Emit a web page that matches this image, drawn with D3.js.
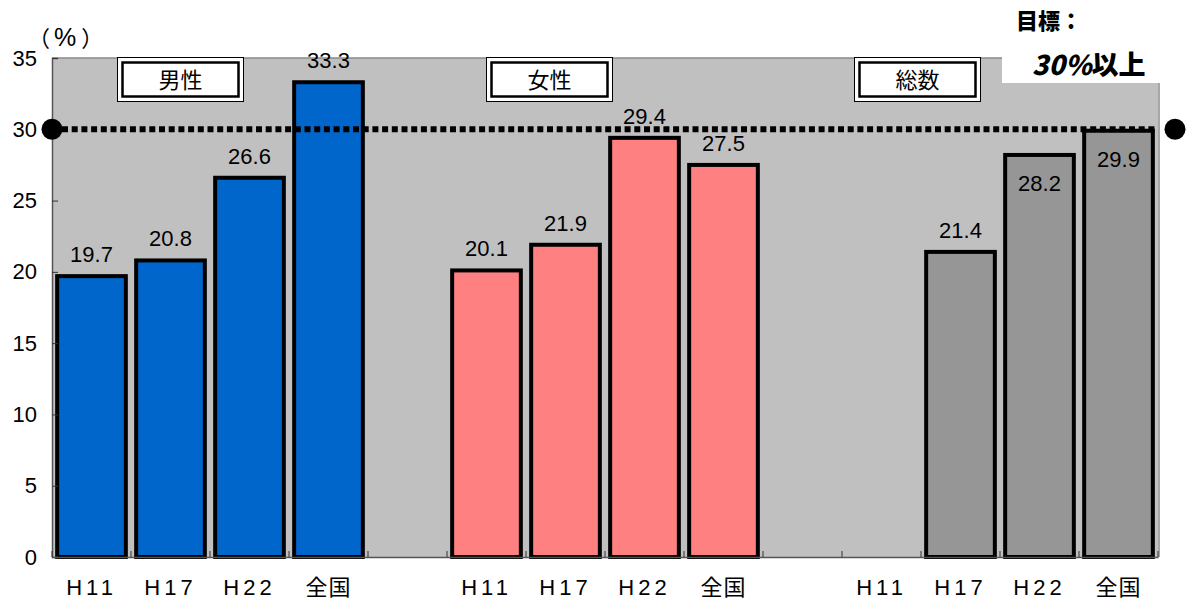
<!DOCTYPE html>
<html>
<head>
<meta charset="utf-8">
<script src="https://cdn.jsdelivr.net/npm/d3@7"></script>
<style>
  html, body { margin: 0; padding: 0; background: #fff; }
  svg { display: block; }
  text { font-family: "Liberation Sans", Arial, "Noto Sans CJK JP", sans-serif; fill: #000; }
  text.jp { font-family: "Noto Sans CJK JP", sans-serif; }
</style>
</head>
<body>
<svg id="chart" width="1187" height="605"></svg>
<script>
// ---- data ----
const groups = ["男性", "女性", "総数"];
const periods = ["H11", "H17", "H22", "全国"];
const maleValues = [19.7, 20.8, 26.6, 33.3];
const femaleValues = [20.1, 21.9, 29.4, 27.5];
const totalValues = [null, 21.4, 28.2, 29.9];
const yTicks = [0, 5, 10, 15, 20, 25, 30, 35];
const targetValue = 30;
const targetTitle = "目標：";
const targetText = ["30%", "以上"];
const unitLabel = ["（", "%", "）"];

// ---- layout ----
const W = 1187, H = 605;
const plot = { left: 52, right: 1158, top: 58, bottom: 557 };
const groupColors = ["#0066CC", "#FF8080", "#969696"];
const groupBoxLeft = [117, 486, 854];
// total-group labels that sit inside the bar top (they would clash with the target line)
const insideLabels = new Set(["総数-H22", "総数-全国"]);

const seriesValues = [maleValues, femaleValues, totalValues];

// slot keys: each group's four periods with an empty slot between groups
const slots = [];
groups.forEach((g, gi) => {
  periods.forEach(p => slots.push({ key: g + "-" + p, group: gi, period: p }));
  if (gi < groups.length - 1) slots.push({ key: "gap" + gi, group: -1, period: "" });
});
const bars = [];
groups.forEach((g, gi) => {
  periods.forEach((p, pi) => {
    const v = seriesValues[gi][pi];
    if (v != null) bars.push({ key: g + "-" + p, group: gi, value: v });
  });
});

const svg = d3.select("#chart");

const x = d3.scaleBand()
  .domain(slots.map(d => d.key))
  .range([plot.left, plot.right])
  .paddingInner(0.08)
  .paddingOuter(0.04);

const y = d3.scaleLinear().domain([0, 35]).range([plot.bottom, plot.top]);

// plot background
svg.append("rect")
  .attr("x", plot.left).attr("y", plot.top)
  .attr("width", plot.right - plot.left).attr("height", plot.bottom - plot.top)
  .attr("fill", "#C0C0C0");

// white panel carrying the target note
svg.append("rect")
  .attr("x", 1002).attr("y", 0)
  .attr("width", W - 1002).attr("height", 83)
  .attr("fill", "#fff");

// plot frame (top and right)
svg.append("path")
  .attr("d", `M${plot.left},${plot.top}H1002`)
  .attr("stroke", "#8a8a8a").attr("stroke-width", 1.5).attr("fill", "none");
svg.append("path")
  .attr("d", `M${plot.right + 1},83V${plot.bottom}`)
  .attr("stroke", "#8a8a8a").attr("stroke-width", 1.5).attr("fill", "none");

// bars
const sw = 4;
svg.append("g").selectAll("rect")
  .data(bars)
  .join("rect")
  .attr("x", d => x(d.key) + sw / 2)
  .attr("y", d => y(d.value))
  .attr("width", x.bandwidth() - sw)
  .attr("height", d => y(0) - y(d.value))
  .attr("fill", d => groupColors[d.group])
  .attr("stroke", "#000")
  .attr("stroke-width", sw);

// value labels
svg.append("g").selectAll("text")
  .data(bars)
  .join("text")
  .attr("x", d => x(d.key) + x.bandwidth() / 2)
  .attr("y", d => insideLabels.has(d.key) ? y(d.value) + 36 : y(d.value) - 14)
  .attr("text-anchor", "middle")
  .attr("font-size", 22)
  .text(d => d.value.toFixed(1));

// y axis
const yAxis = d3.axisLeft(y).tickValues(yTicks).tickSize(-6).tickPadding(15).tickFormat(d3.format("d"));
const yg = svg.append("g").attr("transform", `translate(${plot.left},0)`).call(yAxis);
yg.select(".domain").attr("stroke", "#555").attr("stroke-width", 1.5);
yg.selectAll(".tick line").attr("stroke", "#333");
yg.selectAll(".tick text").attr("font-size", 22).attr("font-family", "Liberation Sans, Arial, sans-serif").attr("fill", "#000");

// x axis
const labelOf = new Map(slots.map(d => [d.key, d.period]));
const xAxis = d3.axisBottom(x).tickSize(0).tickPadding(22).tickFormat(k => labelOf.get(k));
const xg = svg.append("g").attr("transform", `translate(0,${plot.bottom})`).call(xAxis);
xg.select(".domain").attr("stroke", "#555").attr("stroke-width", 1.5);
xg.selectAll(".tick text")
  .attr("font-size", 22)
  .attr("letter-spacing", d => labelOf.get(d) === "全国" ? 1 : 4)
  .attr("font-family", d => labelOf.get(d) === "全国" ? "Noto Sans CJK JP, sans-serif" : "Liberation Sans, Arial, sans-serif")
  .attr("fill", "#000");

// small inward ticks at slot boundaries
const boundaries = d3.range(slots.length + 1).map(i => plot.left + i * (plot.right - plot.left) / slots.length);
svg.append("g").selectAll("line")
  .data(boundaries)
  .join("line")
  .attr("x1", d => d).attr("x2", d => d)
  .attr("y1", plot.bottom).attr("y2", plot.bottom - 6)
  .attr("stroke", "#333").attr("stroke-width", 1);

// unit label: full-width brackets around a larger percent sign
const unit = svg.append("text")
  .attr("class", "jp")
  .attr("x", 28).attr("y", 46)
  .attr("font-size", 22);
unit.append("tspan").text(unitLabel[0]);
unit.append("tspan").attr("font-size", 25).attr("font-family", "Liberation Sans, Arial, sans-serif").attr("dx", 4).text(unitLabel[1]);
unit.append("tspan").attr("dx", 5).text(unitLabel[2]);

// group captions in double-framed boxes
const boxW = 127, boxH = 45, boxTop = 57;
const cap = svg.append("g").selectAll("g").data(groups).join("g")
  .attr("transform", (d, i) => `translate(${groupBoxLeft[i]},${boxTop})`);
cap.append("rect")
  .attr("x", 0.5).attr("y", 0.5).attr("width", boxW - 1).attr("height", boxH - 1)
  .attr("fill", "#fff").attr("stroke", "#000").attr("stroke-width", 1);
cap.append("rect")
  .attr("x", 5.5).attr("y", 5.5).attr("width", boxW - 11).attr("height", boxH - 11)
  .attr("fill", "#fff").attr("stroke", "#000").attr("stroke-width", 2.5);
cap.append("text")
  .attr("class", "jp")
  .attr("x", boxW / 2).attr("y", boxH / 2 + 8)
  .attr("text-anchor", "middle")
  .attr("font-size", 22)
  .text(d => d);

// target line with end markers
const ty = y(targetValue);
svg.append("line")
  .attr("x1", plot.left + 10).attr("x2", plot.right)
  .attr("y1", ty).attr("y2", ty)
  .attr("stroke", "#000").attr("stroke-width", 6)
  .attr("stroke-dasharray", "6,3.7");
svg.append("circle").attr("cx", plot.left).attr("cy", ty).attr("r", 10.5).attr("fill", "#000");
svg.append("circle").attr("cx", 1175).attr("cy", ty).attr("r", 10.5).attr("fill", "#000");

// target note
svg.append("text")
  .attr("class", "jp")
  .attr("x", 1016).attr("y", 29)
  .attr("font-size", 22).attr("font-weight", 900)
  .text(targetTitle);
const note = svg.append("text")
  .attr("class", "jp")
  .attr("x", 1032).attr("y", 75)
  .attr("font-size", 27).attr("font-weight", 900);
note.append("tspan").attr("font-style", "italic").text(targetText[0]);
note.append("tspan").text(targetText[1]);
</script>
</body>
</html>
